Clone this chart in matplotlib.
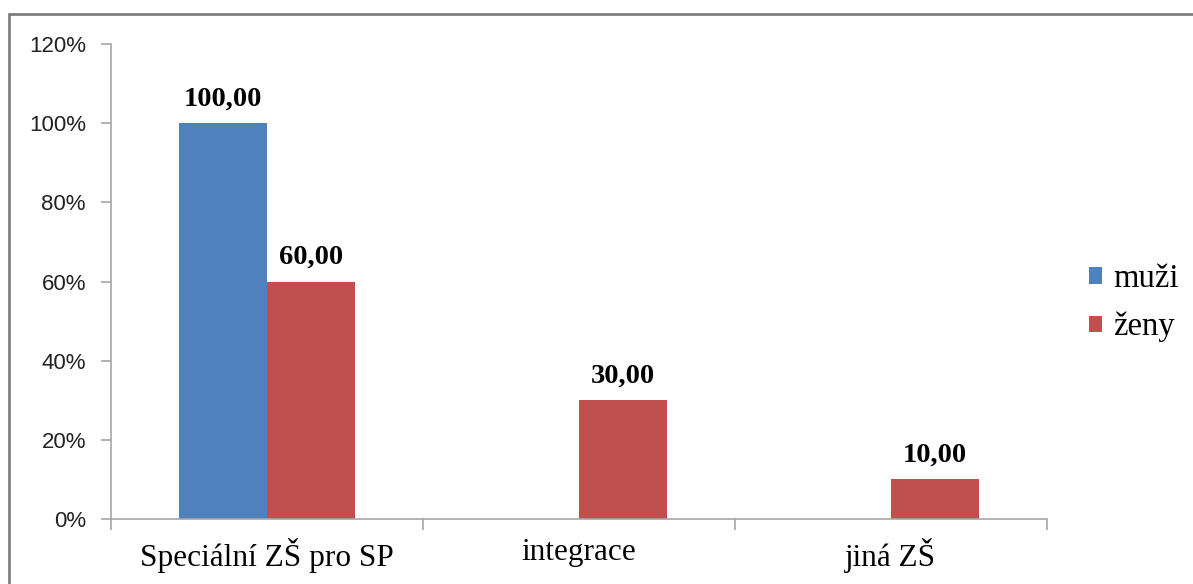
import matplotlib
matplotlib.use("Agg")
import matplotlib.pyplot as plt
import numpy as np
from matplotlib.patches import Rectangle
from matplotlib.ticker import FuncFormatter

categories = ["Speciální ZŠ pro SP", "integrace", "jiná ZŠ"]
muzi = [100.0, 0.0, 0.0]
zeny = [60.0, 30.0, 10.0]
series_names = ["muži", "ženy"]
y_ticks = [0, 20, 40, 60, 80, 100, 120]

blue = "#4F81BD"
red = "#C0504D"
axis_col = "#A6A6A6"

fig = plt.figure(figsize=(11.93, 5.84), dpi=100)
ax = fig.add_axes([111/1193, 1-519/584, (1047-111)/1193, (519-44)/584])

x = np.arange(len(categories))
w = 0.283
b1 = ax.bar(x - w/2, muzi, width=w, color=blue, label=series_names[0])
b2 = ax.bar(x + w/2, zeny, width=w, color=red, label=series_names[1])

label_font = dict(family="Liberation Serif", fontsize=20.5, fontweight="bold")
for xi, v in zip(x, muzi):
    if v > 0:
        ax.text(xi - w/2, v + 3.0, f"{v:.2f}".replace(".", ","), ha="center", va="bottom", **label_font)
for xi, v in zip(x, zeny):
    if v > 0:
        ax.text(xi + w/2, v + 3.0, f"{v:.2f}".replace(".", ","), ha="center", va="bottom", **label_font)

ax.set_xlim(-0.5, len(categories) - 0.5)
ax.set_ylim(0, 120)
ax.set_yticks(y_ticks)
ax.yaxis.set_major_formatter(FuncFormatter(lambda v, p: f"{int(v)}%"))
for lab in ax.get_yticklabels():
    lab.set_family("Liberation Sans")
    lab.set_fontsize(16)
ax.tick_params(axis="y", length=7, color=axis_col, width=1.2, pad=11, labelcolor="#222222")

ax.set_xticks(x)
ax.set_xticklabels(categories, family="Liberation Serif", fontsize=22.5)
ax.tick_params(axis="x", length=0, pad=14)
ax.set_xticks(np.arange(-0.5, len(categories)), minor=True)
ax.tick_params(axis="x", which="minor", length=8, color=axis_col, width=1.2)

for s in ["top", "right"]:
    ax.spines[s].set_visible(False)
ax.spines["left"].set_color(axis_col)
ax.spines["bottom"].set_color(axis_col)
ax.spines["left"].set_linewidth(1.2)
ax.spines["bottom"].set_linewidth(1.2)

leg = fig.legend(handles=[b1, b2], labels=series_names, loc="center left",
                 bbox_to_anchor=(1089/1193, 1-303/584), frameon=False,
                 borderpad=0, borderaxespad=0,
                 prop=dict(family="Liberation Serif", size=23.5),
                 handlelength=0.4, handleheight=0.4, handletextpad=0.35, labelspacing=0.55)

fig.patches.append(Rectangle((9/1193, -0.05), 1.1, 1 - 14/584 + 0.05, transform=fig.transFigure,
                             fill=False, edgecolor="#808080", linewidth=2))

fig.savefig("out.png", dpi=100)
